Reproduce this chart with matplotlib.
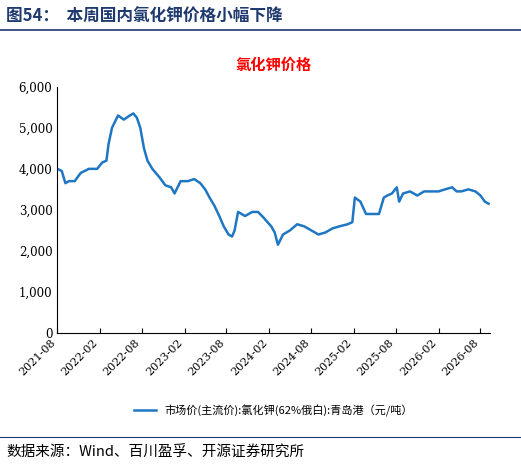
import matplotlib
matplotlib.use("Agg")
import matplotlib.pyplot as plt
import matplotlib.dates as mdates
import pandas as pd

plt.rcParams['font.family'] = ['Noto Sans CJK SC', 'DejaVu Sans']

dates = ["2021-08-01","2021-08-20","2021-09-05","2021-09-20","2021-10-15","2021-11-10","2021-12-15","2022-01-20",
         "2022-02-10","2022-03-01","2022-03-10","2022-03-25","2022-04-20","2022-05-15","2022-06-10","2022-06-25",
         "2022-07-10","2022-07-25","2022-08-10","2022-08-25","2022-09-15","2022-10-15","2022-11-10","2022-12-05",
         "2022-12-20","2023-01-15","2023-02-15","2023-03-15","2023-04-10","2023-05-01","2023-05-20","2023-06-10",
         "2023-07-01","2023-07-20","2023-08-10","2023-08-25","2023-09-05","2023-09-20","2023-10-20","2023-11-20",
         "2023-12-15","2024-01-10","2024-01-25","2024-02-10","2024-02-25","2024-03-10","2024-04-01","2024-05-01",
         "2024-06-01","2024-07-01","2024-08-01","2024-09-01","2024-10-01","2024-11-01","2024-12-01","2025-01-05",
         "2025-01-25","2025-02-05","2025-03-01","2025-03-25","2025-04-15","2025-05-20","2025-06-10","2025-06-25",
         "2025-07-15","2025-08-05","2025-08-15","2025-09-01","2025-10-01","2025-11-01","2025-12-01","2026-01-01",
         "2026-02-01","2026-03-01","2026-04-01","2026-04-20","2026-05-10","2026-06-10","2026-07-10","2026-08-01",
         "2026-08-20","2026-09-05"]
price = [4000,3950,3650,3700,3700,3900,4000,4000,
         4150,4200,4600,5000,5300,5200,5300,5350,
         5250,5000,4500,4200,4000,3800,3600,3550,
         3400,3700,3700,3750,3650,3500,3300,3100,
         2850,2600,2400,2350,2500,2950,2850,2950,
         2950,2800,2700,2600,2450,2150,2400,2500,
         2650,2600,2500,2400,2450,2550,2600,2650,
         2700,3300,3200,2900,2900,2900,3300,3350,
         3400,3550,3200,3400,3450,3350,3450,3450,
         3450,3500,3550,3450,3450,3500,3450,3350,
         3200,3150]

d = pd.to_datetime(dates)
fig = plt.figure(figsize=(5.21, 4.69), dpi=100)
fig.text(0.012, 0.965, "图54：  本周国内氯化钾价格小幅下降", fontsize=12, fontweight='bold', color='#1f3a6e', va='center')
fig.add_artist(plt.Line2D([0.0, 1.0], [0.935, 0.935], color='#1f3a6e', lw=1.2))
fig.add_artist(plt.Line2D([0.0, 1.0], [0.068, 0.068], color='#1f3a6e', lw=0.8))
fig.text(0.012, 0.035, "数据来源：Wind、百川盈孚、开源证券研究所", fontsize=10.5, va='center')

ax = fig.add_axes([0.11, 0.29, 0.83, 0.525])
ax.plot(d, price, color='#1f77c4', lw=1.8, label="市场价(主流价):氯化钾(62%俄白):青岛港（元/吨）")
ax.set_ylim(0, 6000)
ax.set_yticks(range(0, 6001, 1000))
ax.yaxis.set_major_formatter(matplotlib.ticker.FuncFormatter(lambda v, p: f"{int(v):,}"))
ax.set_xlim(pd.Timestamp("2021-08-01"), pd.Timestamp("2026-09-10"))
ticks = pd.date_range("2021-08-01", "2026-08-01", freq="6MS")
ax.set_xticks(ticks)
ax.set_xticklabels([t.strftime("%Y-%m") for t in ticks], rotation=45, ha='right', fontsize=8, family='DejaVu Serif')
for lbl in ax.get_yticklabels():
    lbl.set_fontsize(8.5); lbl.set_family('DejaVu Serif')
ax.tick_params(axis='x', direction='in')
ax.tick_params(axis='y', length=0)
for s in ['top', 'right']:
    ax.spines[s].set_visible(False)
ax.set_title("氯化钾价格", color='red', fontweight='bold', fontsize=11, pad=12)
ax.legend(loc='upper center', bbox_to_anchor=(0.5, -0.25), frameon=False, fontsize=8)
fig.savefig("out.png", dpi=100)
